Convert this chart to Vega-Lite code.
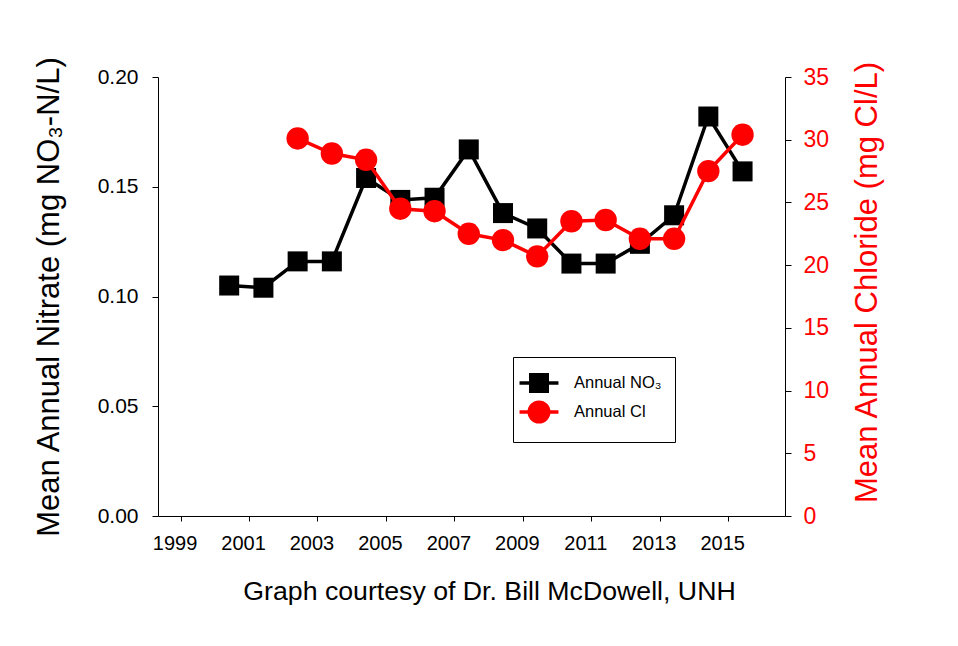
{
  "$schema": "https://vega.github.io/schema/vega-lite/v6.json",
  "autosize": {"type": "none"},
  "padding": {"left": 158, "top": 77, "right": 173, "bottom": 130},
  "width": 627,
  "height": 439,
  "background": "white",
  "config": {
    "font": "Liberation Sans",
    "view": {"stroke": null},
    "axis": {"grid": false, "domainColor": "black", "tickColor": "black", "domainWidth": 1, "tickWidth": 1, "labelColor": "black", "titleColor": "black", "titleFontWeight": "normal", "labelFont": "Liberation Sans", "titleFont": "Liberation Sans"},
    "legend": {"labelFont": "Liberation Sans"}
  },
  "data": {
    "values": [
      {"year": 2000.42, "series": "Annual NO₃", "value": 0.105},
      {"year": 2001.42, "series": "Annual NO₃", "value": 0.104},
      {"year": 2002.42, "series": "Annual NO₃", "value": 0.116},
      {"year": 2003.42, "series": "Annual NO₃", "value": 0.116},
      {"year": 2004.42, "series": "Annual NO₃", "value": 0.154},
      {"year": 2005.42, "series": "Annual NO₃", "value": 0.144},
      {"year": 2006.42, "series": "Annual NO₃", "value": 0.145},
      {"year": 2007.42, "series": "Annual NO₃", "value": 0.167},
      {"year": 2008.42, "series": "Annual NO₃", "value": 0.138},
      {"year": 2009.42, "series": "Annual NO₃", "value": 0.131},
      {"year": 2010.42, "series": "Annual NO₃", "value": 0.115},
      {"year": 2011.42, "series": "Annual NO₃", "value": 0.115},
      {"year": 2012.42, "series": "Annual NO₃", "value": 0.124},
      {"year": 2013.42, "series": "Annual NO₃", "value": 0.137},
      {"year": 2014.42, "series": "Annual NO₃", "value": 0.182},
      {"year": 2015.42, "series": "Annual NO₃", "value": 0.157},
      {"year": 2002.42, "series": "Annual Cl", "value": 30.1},
      {"year": 2003.42, "series": "Annual Cl", "value": 28.9},
      {"year": 2004.42, "series": "Annual Cl", "value": 28.4},
      {"year": 2005.42, "series": "Annual Cl", "value": 24.5},
      {"year": 2006.42, "series": "Annual Cl", "value": 24.3},
      {"year": 2007.42, "series": "Annual Cl", "value": 22.5},
      {"year": 2008.42, "series": "Annual Cl", "value": 22.0},
      {"year": 2009.42, "series": "Annual Cl", "value": 20.7},
      {"year": 2010.42, "series": "Annual Cl", "value": 23.5},
      {"year": 2011.42, "series": "Annual Cl", "value": 23.6},
      {"year": 2012.42, "series": "Annual Cl", "value": 22.1},
      {"year": 2013.42, "series": "Annual Cl", "value": 22.1},
      {"year": 2014.42, "series": "Annual Cl", "value": 27.5},
      {"year": 2015.42, "series": "Annual Cl", "value": 30.4}
    ]
  },
  "encoding": {
    "x": {
      "field": "year", "type": "quantitative",
      "scale": {"domain": [1998.34, 2016.66], "nice": false, "zero": false},
      "axis": {
        "values": [1999, 2001, 2003, 2005, 2007, 2009, 2011, 2013, 2015],
        "format": "d", "tickSize": 5, "labelFontSize": 20, "labelPadding": 12, "labelOffset": -6,
        "title": "Graph courtesy of Dr. Bill McDowell, UNH", "titleFontSize": 26.7, "titlePadding": 25, "titleX": 331
      }
    }
  },
  "layer": [
    {
      "transform": [{"filter": {"field": "series", "equal": "Annual NO₃"}}],
      "encoding": {
        "y": {
          "field": "value", "type": "quantitative",
          "scale": {"domain": [0, 0.2], "nice": false},
          "axis": {
            "orient": "left", "values": [0, 0.05, 0.1, 0.15, 0.2], "format": ".2f", "tickSize": 6,
            "labelFontSize": 21, "labelPadding": 14,
            "title": "Mean Annual Nitrate (mg NO₃-N/L)", "titleFontSize": 31, "titlePadding": 32
          }
        }
      },
      "layer": [
        {"mark": {"type": "line", "color": "black", "strokeWidth": 3.5}},
        {"mark": {"type": "point", "shape": "square", "filled": true, "color": "black", "opacity": 1, "size": 400}}
      ]
    },
    {
      "transform": [{"filter": {"field": "series", "equal": "Annual Cl"}}],
      "encoding": {
        "y": {
          "field": "value", "type": "quantitative",
          "scale": {"domain": [0, 35], "nice": false},
          "axis": {
            "orient": "right", "values": [0, 5, 10, 15, 20, 25, 30, 35], "tickSize": 6,
            "labelFontSize": 23, "labelPadding": 12, "labelColor": "red",
            "title": "Mean Annual Chloride (mg Cl/L)", "titleFontSize": 31, "titleColor": "red", "titlePadding": 24, "titleAngle": 270, "titleBaseline": "top", "titleY": 205
          }
        }
      },
      "layer": [
        {"mark": {"type": "line", "color": "red", "strokeWidth": 3.5}},
        {"mark": {"type": "point", "shape": "circle", "filled": true, "color": "red", "opacity": 1, "size": 500}}
      ]
    },
    {
      "mark": {"type": "point", "opacity": 0, "strokeWidth": 3.5},
      "encoding": {
        "fill": {
          "field": "series", "type": "nominal",
          "scale": {"domain": ["Annual NO₃", "Annual Cl"], "range": ["black", "red"]},
          "legend": {"orient": "none", "legendX": 355, "legendY": 280, "title": null, "padding": 13, "strokeColor": "black", "fillColor": "white", "symbolSize": 484, "symbolStrokeWidth": 3.5, "symbolOpacity": 1, "labelFontSize": 16.5, "labelOffset": 22, "rowPadding": -6, "labelColor": "black"}
        },
        "stroke": {
          "field": "series", "type": "nominal",
          "scale": {"domain": ["Annual NO₃", "Annual Cl"], "range": ["black", "red"]},
          "legend": {"orient": "none", "legendX": 355, "legendY": 280, "title": null, "padding": 13, "strokeColor": "black", "fillColor": "white", "symbolSize": 484, "symbolStrokeWidth": 3.5, "symbolOpacity": 1, "labelFontSize": 16.5, "labelOffset": 22, "rowPadding": -6, "labelColor": "black"}
        },
        "shape": {
          "field": "series", "type": "nominal",
          "scale": {"domain": ["Annual NO₃", "Annual Cl"], "range": ["M-1.77,0H1.77M-0.75,-0.75H0.75V0.75H-0.75Z", "M-1.77,0H1.77M-0.886,0A0.886,0.886,0,1,0,0.886,0A0.886,0.886,0,1,0,-0.886,0Z"]},
          "legend": {"orient": "none", "legendX": 355, "legendY": 280, "title": null, "padding": 13, "strokeColor": "black", "fillColor": "white", "symbolSize": 484, "symbolStrokeWidth": 3.5, "symbolOpacity": 1, "labelFontSize": 16.5, "labelOffset": 22, "rowPadding": -6, "labelColor": "black"}
        }
      }
    }
  ],
  "resolve": {"scale": {"y": "independent"}}
}
